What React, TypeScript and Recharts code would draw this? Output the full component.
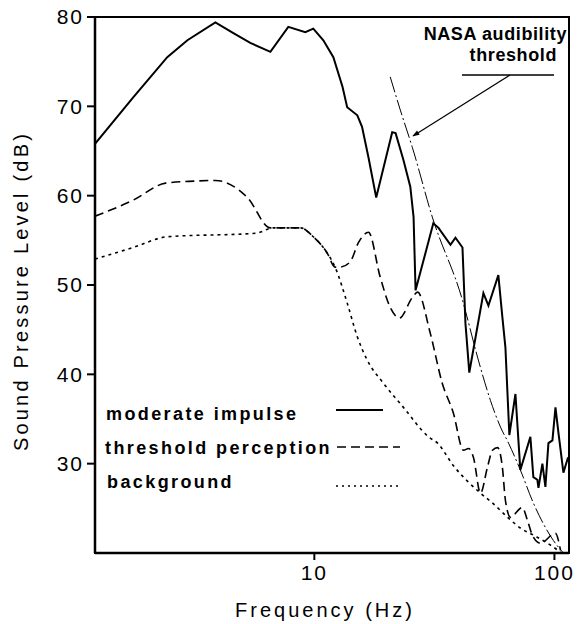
import React from 'react';
import { LineChart, Line, XAxis, YAxis, ReferenceArea, Label } from 'recharts';

// moderate impulse (solid)
const impulseHz = [1.22, 1.76, 2.44, 2.96, 3.87, 4.6, 5.41, 6.56, 7.79, 9.17, 9.9, 10.9, 12.0, 13.1, 13.7, 15.1, 15.8, 16.8, 18.1, 21.1, 21.8, 23.5, 25.1, 25.9, 26.4, 31.3, 32.9, 36.9, 38.7, 41.4, 42.6, 44.2, 50.6, 53.1, 58.4, 60.7, 62.5, 64.9, 68.8, 72.1, 79.4, 81.7, 84.9, 85.8, 89.1, 91.7, 94.4, 98.1, 101, 104, 109, 114];
const impulseDb = [65.8, 71.0, 75.5, 77.4, 79.4, 78.2, 77.1, 76.1, 78.9, 78.3, 78.7, 77.4, 75.5, 72.2, 69.9, 69.0, 67.7, 64.3, 59.8, 67.1, 67.0, 64.0, 61.0, 57.6, 49.4, 56.9, 56.4, 54.5, 55.3, 54.2, 45.7, 40.2, 49.1, 47.7, 51.1, 46.4, 43.0, 33.2, 37.8, 29.3, 33.0, 28.5, 28.2, 27.3, 30.0, 27.4, 32.3, 32.6, 36.3, 33.4, 29.0, 30.7];

// threshold perception (dashed)
const thresholdHz = [1.22, 1.76, 2.4, 3.0, 3.87, 5.26, 6.56, 8.75, 9.9, 11.3, 12.2, 12.8, 14.1, 15.3, 16.8, 18.8, 20.7, 22.6, 25.6, 26.9, 30.4, 34.1, 37.9, 41.8, 43.9, 46.0, 49.2, 52.6, 55.2, 58.0, 60.7, 62.5, 65.6, 73.5, 77.1, 80.9, 87.4, 101, 106];
const thresholdDb = [57.7, 59.5, 61.4, 61.6, 61.7, 59.8, 56.4, 56.4, 55.4, 53.6, 52.0, 52.0, 52.6, 54.8, 55.9, 50.9, 47.5, 46.3, 48.6, 49.2, 44.6, 39.0, 35.7, 31.5, 31.7, 30.7, 26.7, 29.6, 31.5, 31.8, 29.6, 25.9, 24.0, 25.1, 23.7, 22.0, 21.1, 22.2, 20.3];

// background (dotted)
const backgroundHz = [1.22, 1.76, 2.44, 5.73, 6.75, 8.75, 9.9, 11.3, 12.2, 13.7, 15.1, 16.6, 19.4, 23.5, 29.9, 32.6, 37.9, 49.2, 55.2, 64.4, 72.1, 81.7, 93.5, 106];
const backgroundDb = [52.9, 54.2, 55.4, 55.8, 56.4, 56.4, 55.4, 53.6, 52.0, 48.0, 44.2, 41.6, 39.0, 36.3, 33.0, 32.3, 29.8, 26.7, 25.6, 23.9, 22.8, 22.0, 21.1, 20.1];

// NASA audibility threshold (dash-dot)
const nasaHz = [20.7, 22.8, 25.6, 31.0, 41.4, 48.2, 54.1, 59.6, 64.4, 72.1, 81.7, 99, 109];
const nasaDb = [73.3, 69.6, 65.4, 57.6, 48.3, 41.6, 37.1, 34.1, 32.3, 29.3, 25.6, 21.4, 20.0];

const xTicks = [10, 100];
const yTicks = [30, 40, 50, 60, 70, 80];
const xDomain = [1.22, 115];
const yDomain = [20, 80];

const legendLabels = ['moderate impulse', 'threshold perception', 'background'];
const annotationLines = ['NASA audibility', 'threshold'];

const zip = (hz: number[], db: number[]) => hz.map((h, i) => ({ hz: h, db: db[i] }));
const impulseData = zip(impulseHz, impulseDb);
const thresholdData = zip(thresholdHz, thresholdDb);
const backgroundData = zip(backgroundHz, backgroundDb);
const nasaData = zip(nasaHz, nasaDb);

const FONT = '"Liberation Sans", Arial, Helvetica, sans-serif';

export default function App() {
  return (
    <div style={{ position: 'absolute', left: 0, top: 0, width: 579, height: 624, background: '#fff' }}>
      <LineChart width={579} height={624} margin={{ top: 17, right: 10, bottom: 0, left: 0 }}>
        <XAxis
          dataKey="hz"
          type="number"
          scale="log"
          domain={xDomain}
          ticks={xTicks}
          allowDataOverflow
          height={71}
          tickSize={7}
          tickMargin={5}
          axisLine={{ stroke: '#000', strokeWidth: 2.5 }}
          tickLine={{ stroke: '#000', strokeWidth: 2 }}
          tick={{ fontSize: 21, fill: '#000', fontFamily: FONT, letterSpacing: 2 }}
          tickFormatter={(v: number) => String(v)}
        >
          <Label
            content={(props: any) => {
              const vb = props.viewBox || { x: 95, y: 553, width: 474 };
              return (
                <text x={vb.x + vb.width / 2 - 7} y={vb.y + 64} textAnchor="middle" fontFamily={FONT} fontSize={20} letterSpacing={3} fill="#000">
                  Frequency (Hz)
                </text>
              );
            }}
          />
        </XAxis>
        <YAxis
          type="number"
          domain={yDomain}
          ticks={yTicks}
          allowDataOverflow
          width={95}
          tickSize={8}
          tickMargin={3}
          axisLine={{ stroke: '#000', strokeWidth: 2.5 }}
          tickLine={{ stroke: '#000', strokeWidth: 2 }}
          tick={{ fontSize: 21, fill: '#000', fontFamily: FONT, letterSpacing: 2 }}
        >
          <Label
            content={(props: any) => {
              const vb = props.viewBox || { x: 0, y: 17, height: 536 };
              const cx = vb.x + 21;
              const cy = vb.y + vb.height / 2 + 6;
              return (
                <text x={cx} y={cy} transform={`rotate(-90, ${cx}, ${cy})`} textAnchor="middle" dominantBaseline="central" fontFamily={FONT} fontSize={20} letterSpacing={3.2} fill="#000">
                  Sound Pressure Level (dB)
                </text>
              );
            }}
          />
        </YAxis>
        <ReferenceArea x1={xDomain[0]} x2={xDomain[1]} y1={yDomain[0]} y2={yDomain[1]} fill="none" fillOpacity={0} stroke="#000" strokeWidth={2} ifOverflow="visible" />
        <Line data={nasaData} dataKey="db" type="monotone" stroke="#000" strokeWidth={1} strokeDasharray="16 3 2 3" dot={false} isAnimationActive={false} />
        <Line data={backgroundData} dataKey="db" type="monotone" stroke="#000" strokeWidth={1.6} strokeDasharray="3 4" dot={false} isAnimationActive={false} />
        <Line data={thresholdData} dataKey="db" type="monotone" stroke="#000" strokeWidth={1.6} strokeDasharray="9 5" dot={false} isAnimationActive={false} />
        <Line data={impulseData} dataKey="db" type="linear" stroke="#000" strokeWidth={2} dot={false} isAnimationActive={false} />
      </LineChart>
      <svg width={579} height={624} style={{ position: 'absolute', left: 0, top: 0, pointerEvents: 'none' }}>
        <defs>
          <marker id="arrowHead" viewBox="0 0 10 10" refX="9" refY="5" markerWidth="9" markerHeight="7" orient="auto" markerUnits="userSpaceOnUse">
            <path d="M0,1.5 L10,5 L0,8.5 Z" fill="#000" />
          </marker>
        </defs>
        <g fontFamily={FONT} fontWeight="bold" fontSize={18} fill="#000">
          <text x={106} y={420} letterSpacing={2.4}>{legendLabels[0]}</text>
          <text x={105} y={454} letterSpacing={2.4}>{legendLabels[1]}</text>
          <text x={107} y={488} letterSpacing={2.4}>{legendLabels[2]}</text>
          <text x={567} y={40} textAnchor="end" letterSpacing={0.6}>{annotationLines[0]}</text>
          <text x={557} y={61} textAnchor="end" letterSpacing={0.6}>{annotationLines[1]}</text>
        </g>
        <line x1={336} y1={410} x2={383} y2={410} stroke="#000" strokeWidth={2} />
        <line x1={337} y1={447} x2={400} y2={447} stroke="#000" strokeWidth={1.6} strokeDasharray="9 5" />
        <line x1={336} y1={486} x2={398} y2={486} stroke="#000" strokeWidth={1.6} strokeDasharray="2 4" />
        <line x1={462} y1={75} x2={554} y2={75} stroke="#000" strokeWidth={1.5} />
        <line x1={510} y1={75} x2={413} y2={136} stroke="#000" strokeWidth={1.2} markerEnd="url(#arrowHead)" />
      </svg>
    </div>
  );
}
